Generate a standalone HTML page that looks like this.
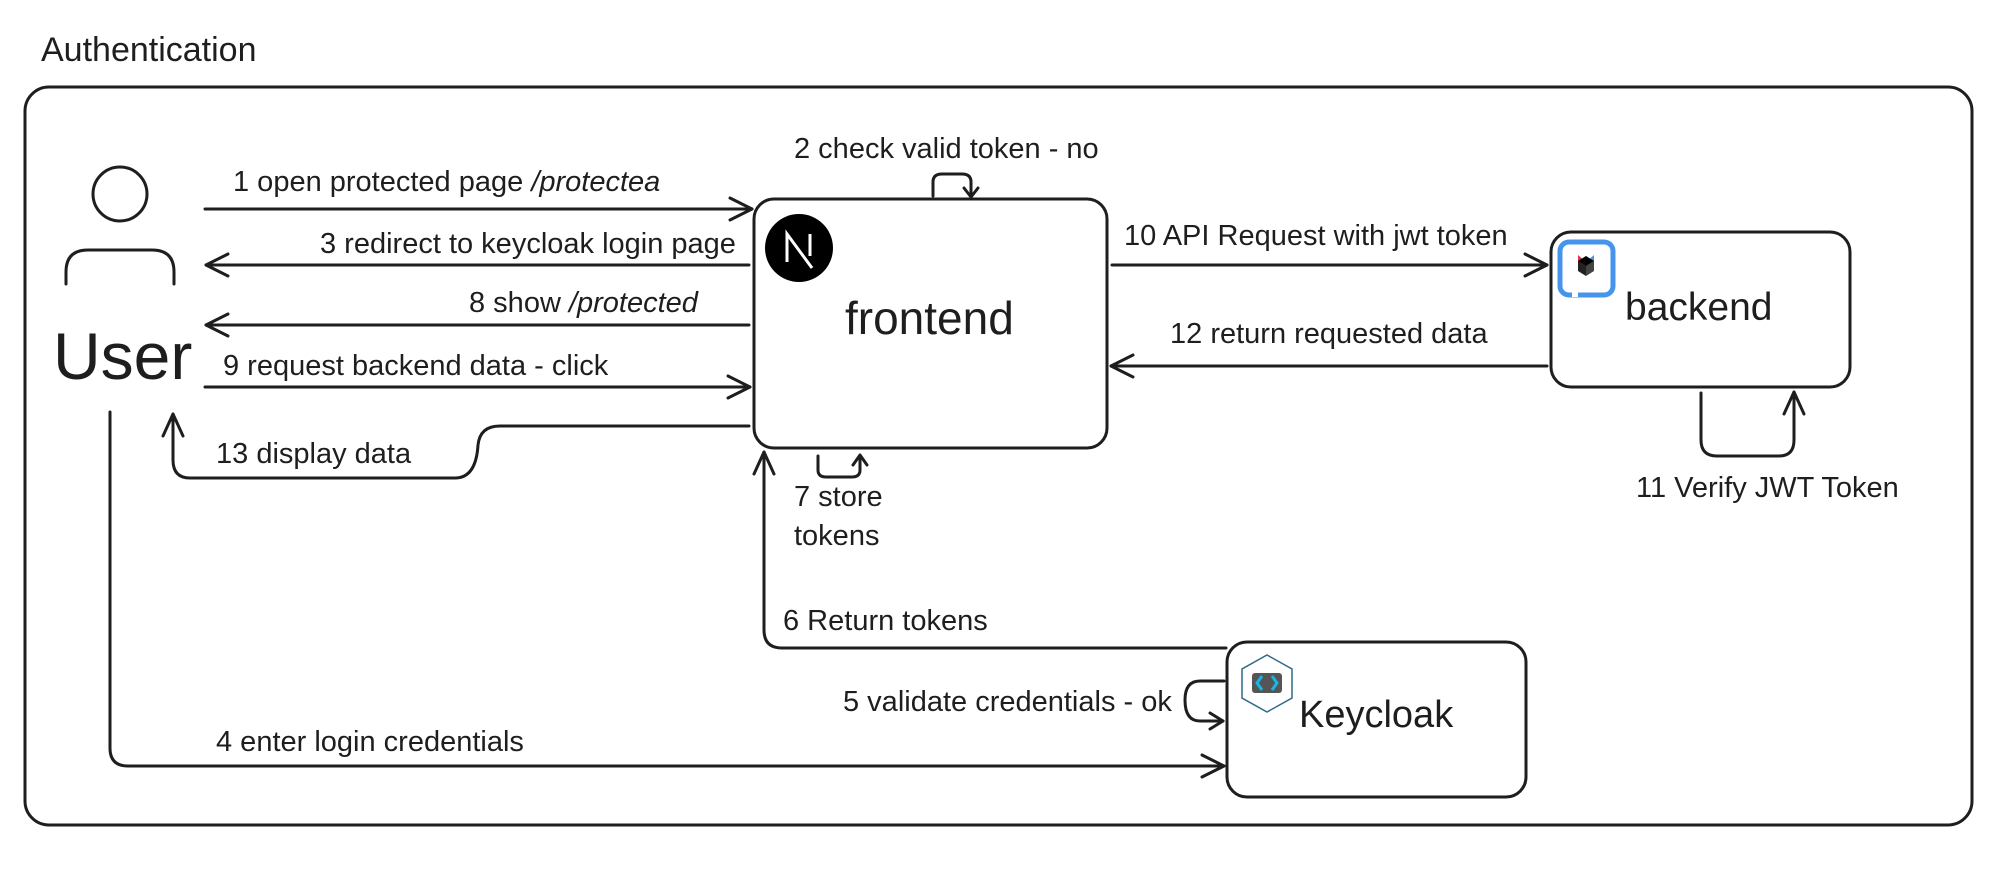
<!DOCTYPE html>
<html><head><meta charset="utf-8"><style>
html,body{margin:0;padding:0;background:#fff;}
svg{display:block;}
text{font-family:"Liberation Sans",sans-serif;fill:#1e1e1e;}
</style></head><body>
<svg width="2000" height="870" viewBox="0 0 2000 870" xmlns="http://www.w3.org/2000/svg">
<g fill="none" stroke="#1e1e1e" stroke-width="3" stroke-linecap="round" stroke-linejoin="round">
<rect x="25" y="87" width="1947" height="738" rx="24"/>
<circle cx="120" cy="194" r="27"/>
<path d="M66 284 V272 Q66 250 88 250 H152 Q174 250 174 272 V284"/>
<rect x="754" y="199" width="353" height="249" rx="20"/>
<rect x="1551" y="232" width="299" height="155" rx="20"/>
<rect x="1227" y="642" width="299" height="155" rx="20"/>

<path d="M205 209 H752"/><path d="M730 198 L752 209 L730 220"/>
<path d="M749 265 H206"/><path d="M228 254 L206 265 L228 276"/>
<path d="M749 325 H206"/><path d="M228 314 L206 325 L228 336"/>
<path d="M205 387 H750"/><path d="M728 376 L750 387 L728 398"/>
<path d="M749 426 H500 Q480 426 478 445 Q476 478 455 478 H190 Q173 478 173 460 V414"/><path d="M163 436 L173 414 L183 436"/>
<path d="M933 196 V182 Q933 174 942 174 H962 Q971 174 971 182 V196"/><path d="M964 188 L971 197 L978 188"/>
<path d="M818 456 V470 Q818 477 826 477 H852 Q860 477 860 470 V456"/><path d="M853 465 L860 455 L867 465"/>
<path d="M1226 648 H782 Q764 648 764 630 V452"/><path d="M754 474 L764 452 L774 474"/>
<path d="M110 412 V748 Q110 766 128 766 H1224"/><path d="M1202 755 L1224 766 L1202 777"/>
<path d="M1224 681 H1200 Q1185 681 1185 700 Q1185 721 1200 721 H1223"/><path d="M1210 713 L1223 721 L1210 729"/>
<path d="M1112 265 H1547"/><path d="M1525 254 L1547 265 L1525 276"/>
<path d="M1547 366 H1111"/><path d="M1133 355 L1111 366 L1133 377"/>
<path d="M1701 393 V440 Q1701 456 1717 456 H1779 Q1794 456 1794 440 V392"/><path d="M1784 414 L1794 392 L1804 414"/>
</g>

<circle cx="799" cy="248" r="34" fill="#000"/>
<path d="M787 262 V234 L812 268 M810 234 V256" stroke="#fff" stroke-width="3" fill="none"/>

<rect x="1560" y="242" width="53" height="53" rx="9" fill="none" stroke="#4695eb" stroke-width="5"/>
<path d="M1575 297 V290" stroke="#fff" stroke-width="6"/>
<polygon points="1578,255 1586,262 1586,274 1578,268" fill="#e03057"/>
<polygon points="1594,255 1586,262 1586,274 1594,268" fill="#4695eb"/>
<polygon points="1586,256 1594,261 1586,266 1578,261" fill="#000"/>
<polygon points="1578,261 1586,266 1586,276 1578,271" fill="#222"/>
<polygon points="1594,261 1586,266 1586,276 1594,271" fill="#444"/>

<polygon points="1267,655 1292,669 1292,698 1267,712 1242,698 1242,669" fill="#fff" stroke="#2f6b8a" stroke-width="1.5"/>
<rect x="1252" y="673" width="30" height="20" fill="#555" rx="3"/>
<path d="M1262 676 L1257 683 L1262 690 M1272 676 L1277 683 L1272 690" stroke="#17b6e6" stroke-width="3" fill="none"/>

<text x="41" y="61" font-size="34">Authentication</text>
<text x="53" y="379" font-size="66">User</text>
<text x="845" y="334" font-size="46">frontend</text>
<text x="1625" y="320" font-size="39">backend</text>
<text x="1299" y="727" font-size="38">Keycloak</text>

<g font-size="29">
<text x="233" y="191">1 open protected page <tspan font-style="italic">/protectea</tspan></text>
<text x="320" y="253">3 redirect to keycloak login page</text>
<text x="469" y="312">8 show <tspan font-style="italic">/protected</tspan></text>
<text x="223" y="375">9 request backend data - click</text>
<text x="216" y="463">13 display data</text>
<text x="794" y="158">2 check valid token - no</text>
<text x="794" y="506">7 store</text>
<text x="794" y="545">tokens</text>
<text x="783" y="630">6 Return tokens</text>
<text x="843" y="711">5 validate credentials - ok</text>
<text x="216" y="751">4 enter login credentials</text>
<text x="1124" y="245">10 API Request with jwt token</text>
<text x="1170" y="343">12 return requested data</text>
<text x="1636" y="497">11 Verify JWT Token</text>
</g>
</svg>
</body></html>
